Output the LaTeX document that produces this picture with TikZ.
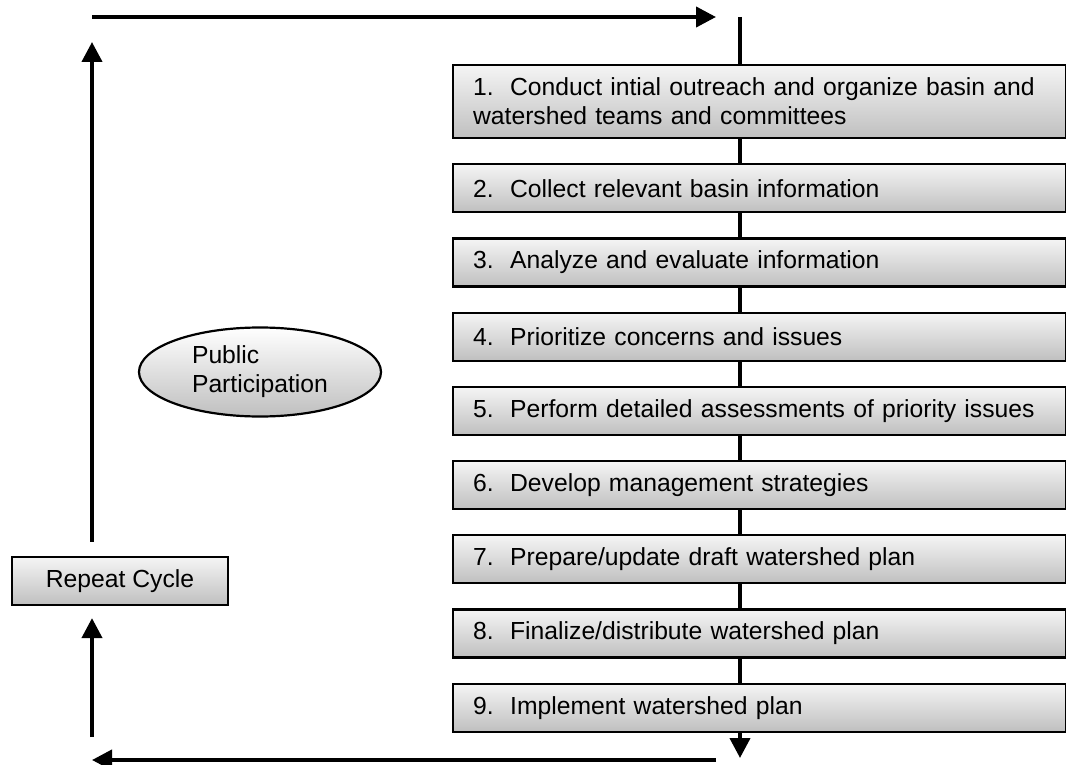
\documentclass[tikz,border=0pt]{standalone}
\usepackage{fontspec}
\setmainfont{Liberation Sans}
\usepackage{tikz}
\usetikzlibrary{arrows.meta, calc, positioning, shapes.geometric}

\tikzset{
  stepbox/.style={draw, line width=2.2pt, rectangle, top color=gray!8, bottom color=gray!50,
    minimum width=613pt, minimum height=48pt, text width=573pt, inner xsep=20pt,
    align=left, font=\fontsize{24.7}{29}\selectfont},
  flow/.style={line width=4pt, -{Triangle[length=20pt,width=20pt]}},
  flowline/.style={line width=4pt}
}

\begin{document}
\begin{tikzpicture}[x=1pt, y=-1pt]
\useasboundingbox (0,0) rectangle (1066,765);
% steps
\node[stepbox, anchor=north west, minimum height=73pt] (s1) at (452,64)
  {1.\ \ Conduct intial outreach and organize basin and\\watershed teams and committees};
\node[stepbox, below=24pt of s1] (s2) {2.\ \ Collect relevant basin information};
\node[stepbox, below=24pt of s2] (s3) {3.\ \ Analyze and evaluate information};
\node[stepbox, below=24pt of s3] (s4) {4.\ \ Prioritize concerns and issues};
\node[stepbox, below=24pt of s4] (s5) {5.\ \ Perform detailed assessments of priority issues};
\node[stepbox, below=24pt of s5] (s6) {6.\ \ Develop management strategies};
\node[stepbox, below=24pt of s6] (s7) {7.\ \ Prepare/update draft watershed plan};
\node[stepbox, below=24pt of s7] (s8) {8.\ \ Finalize/distribute watershed plan};
\node[stepbox, below=24pt of s8] (s9) {9.\ \ Implement watershed plan};
% left side
\node[draw, line width=2.2pt, ellipse, top color=white, bottom color=gray!50,
  minimum width=242pt, minimum height=89pt, align=left,
  font=\fontsize{24.7}{29}\selectfont] (pub) at (260,372) {Public\\Participation};
\node[draw, line width=2.2pt, rectangle, top color=gray!8, bottom color=gray!50,
  minimum width=216pt, minimum height=48pt,
  font=\fontsize{24.7}{29}\selectfont] (rep) at (120,581) {Repeat Cycle};
% loop
\coordinate (tl) at (92,17);
\coordinate (tr) at (716,17);
\coordinate (vt) at (740,17);
\coordinate (vb) at (740,758);
\coordinate (bl) at (92,760);
\coordinate (br) at (716,760);
\draw[flow] (tl) -- (tr);
\draw[flowline] (vt) -- (vt |- s1.north);
\foreach \a/\b in {1/2,2/3,3/4,4/5,5/6,6/7,7/8,8/9}
  \draw[flowline] (vt |- s\a.south) -- (vt |- s\b.north);
\draw[flow] (vt |- s9.south) -- (vb);
\draw[flow] (br) -- (bl);
\draw[flow] ($(bl)+(0,-23)$) -- ($(rep.south -| bl)+(0,12)$);
\draw[flow] ($(rep.north -| tl)+(0,-14)$) -- ($(tl)+(0,25)$);
\end{tikzpicture}
\end{document}
